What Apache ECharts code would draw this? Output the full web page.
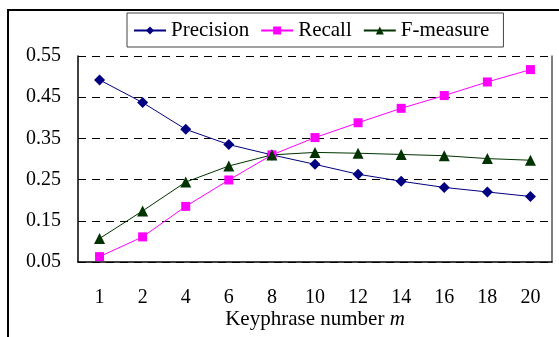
<!DOCTYPE html>
<html>
<head>
<meta charset="utf-8">
<script src="https://cdn.jsdelivr.net/npm/echarts@6/dist/echarts.min.js"></script>
<style>
html,body{margin:0;padding:0;background:#fff;}
#chart{width:559px;height:337px;}
</style>
</head>
<body>
<div id="chart"></div>
<script>
const categories = ['1','2','4','6','8','10','12','14','16','18','20'];
const precision = [0.492, 0.437, 0.372, 0.335, 0.310, 0.287, 0.263, 0.246, 0.231, 0.220, 0.209];
const recall    = [0.063, 0.111, 0.185, 0.249, 0.310, 0.352, 0.388, 0.423, 0.454, 0.487, 0.517];
const fmeasure  = [0.107, 0.174, 0.244, 0.283, 0.310, 0.316, 0.314, 0.311, 0.308, 0.301, 0.297];
const seriesNames = ['Precision', 'Recall', 'F-measure'];

const FONT = 'Liberation Serif';
const chart = echarts.init(document.getElementById('chart'), null, {renderer: 'canvas'});
chart.setOption({
  animation: false,
  backgroundColor: '#fff',
  graphic: [{
    type: 'rect', silent: true, z: 0,
    shape: {x: 8, y: 10, width: 700, height: 500},
    style: {fill: 'none', stroke: '#000', lineWidth: 2}
  }],
  legend: {
    left: 127, top: 13,
    padding: [7, 14, 6, 6],
    itemGap: 11,
    itemWidth: 32, itemHeight: 10,
    backgroundColor: '#fff',
    borderColor: '#444', borderWidth: 1,
    textStyle: {fontFamily: FONT, fontSize: 21, color: '#000'},
    data: seriesNames
  },
  grid: {left: 78, top: 56, right: 7, bottom: 75},
  xAxis: {
    type: 'category',
    data: categories,
    boundaryGap: true,
    axisLine: {lineStyle: {color: '#000', width: 1.5}},
    axisTick: {inside: true, length: 7, lineStyle: {color: '#000'}},
    axisLabel: {fontFamily: FONT, fontSize: 20, color: '#000', margin: 26, interval: 0},
    name: 'Keyphrase number {i|m}',
    nameLocation: 'middle',
    nameGap: 47,
    nameMoveOverlap: false,
    nameTextStyle: {fontFamily: FONT, fontSize: 21, color: '#000',
      rich: {i: {fontFamily: FONT, fontSize: 21, fontStyle: 'italic', color: '#000'}}}
  },
  yAxis: [{
    type: 'value',
    min: 0.05, max: 0.55, interval: 0.1,
    axisLine: {show: true, lineStyle: {color: '#000', width: 1.5}},
    axisTick: {show: false},
    axisLabel: {fontFamily: FONT, fontSize: 20, color: '#000', margin: 17,
      formatter: v => v.toFixed(2)},
    splitLine: {show: true, lineStyle: {color: '#000', type: [8, 6], width: 1}}
  }, {
    type: 'value', position: 'right',
    min: 0.05, max: 0.55, interval: 0.1,
    axisLine: {show: true, lineStyle: {color: '#555', width: 1.5}},
    axisTick: {show: false}, axisLabel: {show: false}, splitLine: {show: false}
  }],
  series: [{
    name: seriesNames[0], type: 'line', data: precision,
    symbol: 'diamond', symbolSize: 11,
    itemStyle: {color: '#000080'}, lineStyle: {color: '#000080', width: 1}
  }, {
    name: seriesNames[1], type: 'line', data: recall,
    symbol: 'rect', symbolSize: 9,
    itemStyle: {color: '#ff00ff'}, lineStyle: {color: '#ff00ff', width: 1}
  }, {
    name: seriesNames[2], type: 'line', data: fmeasure,
    symbol: 'triangle', symbolSize: 11,
    itemStyle: {color: '#003300'}, lineStyle: {color: '#003300', width: 1}
  }]
});
</script>
</body>
</html>
